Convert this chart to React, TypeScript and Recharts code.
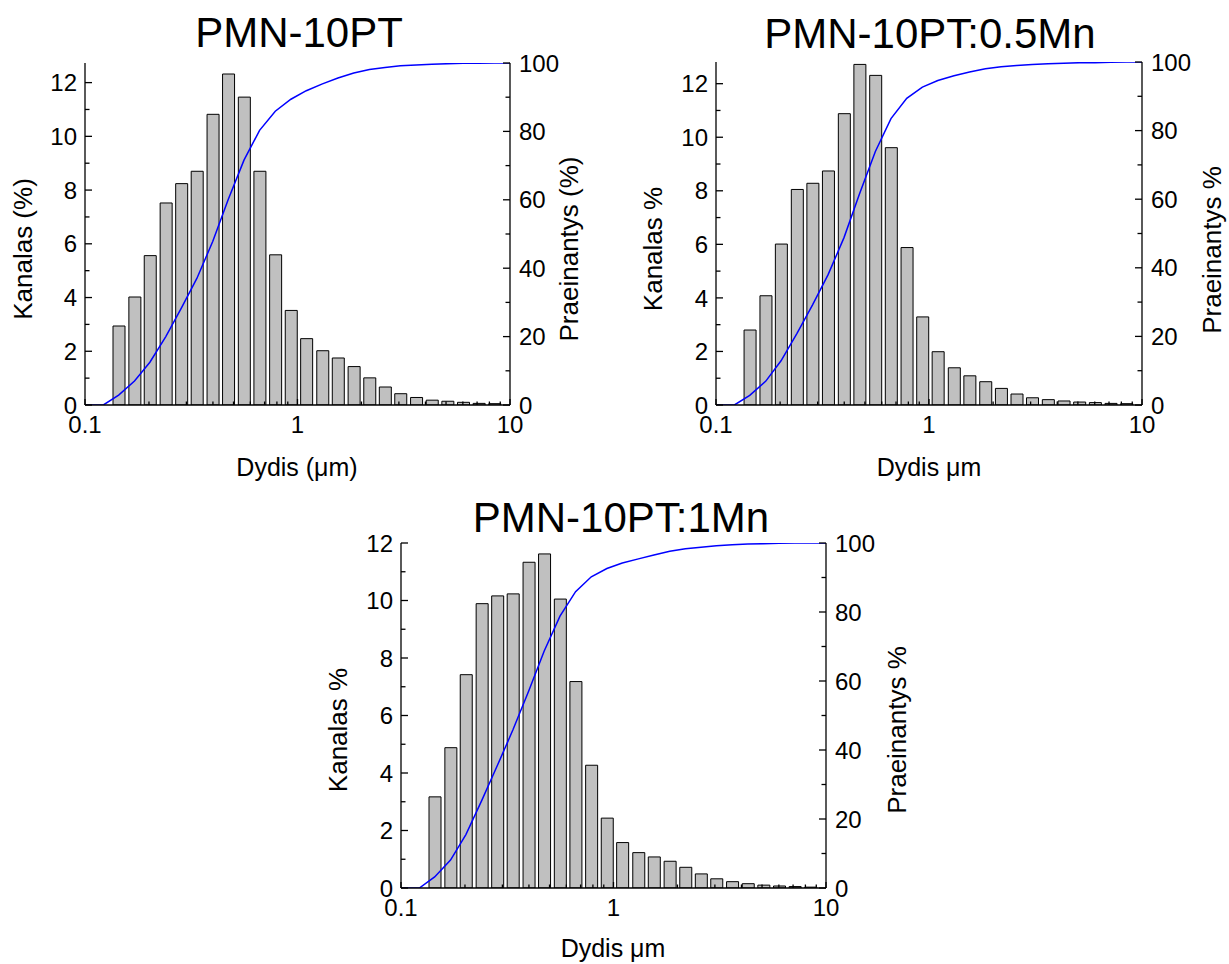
import React from "react"
import { ComposedChart, Bar, Line, XAxis, YAxis } from "recharts"

// dalelių dydžio kanalai (µm), bendri visiems trims mėginiams
const sizeUm = [
  0.1, 0.122, 0.144, 0.171, 0.202, 0.24, 0.284, 0.336, 0.399, 0.472, 0.56, 0.663, 0.786, 0.931,
  1.1, 1.31, 1.55, 1.84, 2.18, 2.58, 3.05, 3.62, 4.29, 5.08, 6.02, 7.13, 8.45, 10,
]

// PMN-10PT
const kanalas10PT = [
  null, null, 2.94, 4.02, 5.56, 7.52, 8.24, 8.7, 10.82, 12.32, 11.46, 8.7, 5.59, 3.52,
  2.47, 2.02, 1.75, 1.43, 1.01, 0.67, 0.42, 0.28, 0.18, 0.14, 0.1, 0.06, 0.05, null,
]
const praeinantys10PT = [
  0, 0, 2.9, 7.0, 12.5, 20.0, 28.3, 37.0, 47.8, 60.1, 71.6, 80.3, 85.9, 89.4,
  91.9, 93.9, 95.6, 97.1, 98.1, 98.7, 99.2, 99.4, 99.6, 99.8, 99.9, 99.9, 100, 100,
]

// PMN-10PT:0.5Mn
const kanalas05Mn = [
  null, null, 2.8, 4.08, 6.01, 8.05, 8.28, 8.74, 10.88, 12.72, 12.31, 9.61, 5.88, 3.29,
  1.99, 1.39, 1.09, 0.87, 0.62, 0.41, 0.27, 0.2, 0.15, 0.11, 0.09, 0.06, 0.05, null,
]
const praeinantys05Mn = [
  0, 0, 2.8, 6.9, 12.9, 20.9, 29.2, 38.0, 48.8, 61.6, 73.9, 83.5, 89.4, 92.7,
  94.6, 96.0, 97.1, 98.0, 98.6, 99.0, 99.3, 99.5, 99.6, 99.8, 99.8, 99.9, 100, 100,
]

// PMN-10PT:1Mn
const kanalas1Mn = [
  null, null, 3.17, 4.88, 7.42, 9.89, 10.16, 10.23, 11.33, 11.62, 10.05, 7.18, 4.27, 2.43,
  1.58, 1.23, 1.08, 0.93, 0.72, 0.49, 0.32, 0.22, 0.15, 0.1, 0.07, 0.05, 0.03, null,
]
const praeinantys1Mn = [
  0, 0, 3.2, 8.1, 15.5, 25.4, 35.5, 45.8, 57.1, 68.7, 78.8, 85.9, 90.2, 92.6,
  94.2, 95.4, 96.5, 97.6, 98.3, 98.8, 99.2, 99.5, 99.7, 99.8, 99.9, 100, 100, 100,
]

const xTicks = [0.1, 0.2, 0.3, 0.4, 0.5, 0.6, 0.7, 0.8, 0.9, 1, 2, 3, 4, 5, 6, 7, 8, 9, 10]
const xMajor = [0.1, 1, 10]
const leftTicks = [0, 1, 2, 3, 4, 5, 6, 7, 8, 9, 10, 11, 12]
const rightTicks = [0, 10, 20, 30, 40, 50, 60, 70, 80, 90, 100]

const FONT = "'Liberation Sans', Arial, Helvetica, sans-serif"
const TICK_FS = 24
const LINE_W = 1.3

function BottomTick(props: any) {
  const { x, y, payload } = props
  const v = payload.value
  const major = xMajor.includes(v)
  return (
    <g>
      <line x1={x} x2={x} y1={y} y2={y - (major ? 6 : 3.5)} stroke="#000" strokeWidth={LINE_W} />
      {major ? (
        <text x={x} y={y + 27.5} textAnchor="middle" fontSize={TICK_FS} fontFamily={FONT} fill="#000">
          {String(v)}
        </text>
      ) : null}
    </g>
  )
}

function TopTick(props: any) {
  const { x, y, payload } = props
  const major = xMajor.includes(payload.value)
  return <line x1={x} x2={x} y1={y} y2={y + (major ? 6 : 3.5)} stroke="#000" strokeWidth={LINE_W} />
}

function LeftTick(props: any) {
  const { x, y, payload } = props
  const v = payload.value
  const major = v % 2 === 0
  return (
    <g>
      <line x1={x} x2={x + (major ? 7 : 4.5)} y1={y} y2={y} stroke="#000" strokeWidth={LINE_W} />
      {major ? (
        <text x={x - 8} y={y} dy="0.36em" textAnchor="end" fontSize={TICK_FS} fontFamily={FONT} fill="#000">
          {v}
        </text>
      ) : null}
    </g>
  )
}

function RightTick(props: any) {
  const { x, y, payload } = props
  const v = payload.value
  const major = v % 20 === 0
  return (
    <g>
      <line x1={x} x2={x - (major ? 7 : 4.5)} y1={y} y2={y} stroke="#000" strokeWidth={LINE_W} />
      {major ? (
        <text x={x + 9} y={y} dy="0.36em" textAnchor="start" fontSize={TICK_FS} fontFamily={FONT} fill="#000">
          {v}
        </text>
      ) : null}
    </g>
  )
}

interface PanelProps {
  left: number
  top: number
  width: number
  height: number
  leftW: number
  rightW: number
  marginTop: number
  bottomH: number
  yMax: number
  kanalas: (number | null)[]
  praeinantys: number[]
}

function Panel({ left, top, width, height, leftW, rightW, marginTop, bottomH, yMax, kanalas, praeinantys }: PanelProps) {
  const data = sizeUm.map((x, i) => ({ x, kanalas: kanalas[i], praeinantys: praeinantys[i] }))
  const axisLine = { stroke: "#000", strokeWidth: LINE_W }
  return (
    <div style={{ position: "absolute", left, top, width, height }}>
      <ComposedChart width={width} height={height} data={data} margin={{ top: marginTop, right: 0, bottom: 0, left: 0 }}>
        <XAxis
          dataKey="x"
          type="number"
          scale="log"
          domain={[0.1, 10]}
          allowDataOverflow
          ticks={xTicks}
          interval={0}
          height={bottomH}
          tickSize={0}
          tickMargin={0}
          tickLine={false}
          axisLine={axisLine}
          tick={(p: any) => <BottomTick {...p} />}
        />
        <XAxis
          xAxisId="top"
          orientation="top"
          dataKey="x"
          type="number"
          scale="log"
          domain={[0.1, 10]}
          allowDataOverflow
          ticks={xTicks}
          interval={0}
          height={0}
          tickSize={0}
          tickMargin={0}
          tickLine={false}
          axisLine={axisLine}
          tick={(p: any) => <TopTick {...p} />}
        />
        <YAxis
          yAxisId="left"
          type="number"
          domain={[0, yMax]}
          allowDataOverflow
          ticks={leftTicks}
          interval={0}
          width={leftW}
          tickSize={0}
          tickMargin={0}
          tickLine={false}
          axisLine={axisLine}
          tick={(p: any) => <LeftTick {...p} />}
        />
        <YAxis
          yAxisId="right"
          orientation="right"
          type="number"
          domain={[0, 100]}
          allowDataOverflow
          ticks={rightTicks}
          interval={0}
          width={rightW}
          tickSize={0}
          tickMargin={0}
          tickLine={false}
          axisLine={axisLine}
          tick={(p: any) => <RightTick {...p} />}
        />
        <Bar
          yAxisId="left"
          dataKey="kanalas"
          barSize={12}
          fill="#c0c0c0"
          stroke="#000"
          strokeWidth={1}
          isAnimationActive={false}
        />
        <Line
          yAxisId="right"
          dataKey="praeinantys"
          type="linear"
          stroke="#0000ff"
          strokeWidth={1.5}
          dot={false}
          activeDot={false}
          isAnimationActive={false}
        />
      </ComposedChart>
    </div>
  )
}

function VText({ x, y, children }: { x: number; y: number; children: React.ReactNode }) {
  return (
    <text x={x} y={y} transform={`rotate(-90 ${x} ${y})`} textAnchor="middle" fontSize={26} fontFamily={FONT} fill="#000">
      {children}
    </text>
  )
}

function HText({ x, y, size = 25, children }: { x: number; y: number; size?: number; children: React.ReactNode }) {
  return (
    <text x={x} y={y} textAnchor="middle" fontSize={size} fontFamily={FONT} fill="#000">
      {children}
    </text>
  )
}

export default function App() {
  return (
    <div style={{ position: "absolute", left: 0, top: 0, width: 1229, height: 964, background: "#fff", fontFamily: FONT }}>
      <Panel
        left={0}
        top={0}
        width={610}
        height={490}
        leftW={85}
        rightW={100}
        marginTop={63}
        bottomH={85}
        yMax={12.73}
        kanalas={kanalas10PT}
        praeinantys={praeinantys10PT}
      />
      <Panel
        left={610}
        top={0}
        width={619}
        height={490}
        leftW={106}
        rightW={87}
        marginTop={62}
        bottomH={85}
        yMax={12.81}
        kanalas={kanalas05Mn}
        praeinantys={praeinantys05Mn}
      />
      <Panel
        left={300}
        top={490}
        width={620}
        height={474}
        leftW={101}
        rightW={94}
        marginTop={53}
        bottomH={76}
        yMax={12}
        kanalas={kanalas1Mn}
        praeinantys={praeinantys1Mn}
      />
      <svg width={1229} height={964} style={{ position: "absolute", left: 0, top: 0, pointerEvents: "none" }}>
        <HText x={299} y={47} size={42}>PMN-10PT</HText>
        <VText x={32} y={249}>Kanalas (%)</VText>
        <VText x={578} y={249}>Praeinantys (%)</VText>
        <HText x={297} y={476}>Dydis (μm)</HText>

        <HText x={930} y={48} size={42}>PMN-10PT:0.5Mn</HText>
        <VText x={662} y={249}>Kanalas %</VText>
        <VText x={1221} y={250}>Praeinantys %</VText>
        <HText x={929} y={476}>Dydis μm</HText>

        <HText x={621} y={532} size={42}>PMN-10PT:1Mn</HText>
        <VText x={347} y={730}>Kanalas %</VText>
        <VText x={906} y={730}>Praeinantys %</VText>
        <HText x={613} y={957}>Dydis μm</HText>
      </svg>
    </div>
  )
}
